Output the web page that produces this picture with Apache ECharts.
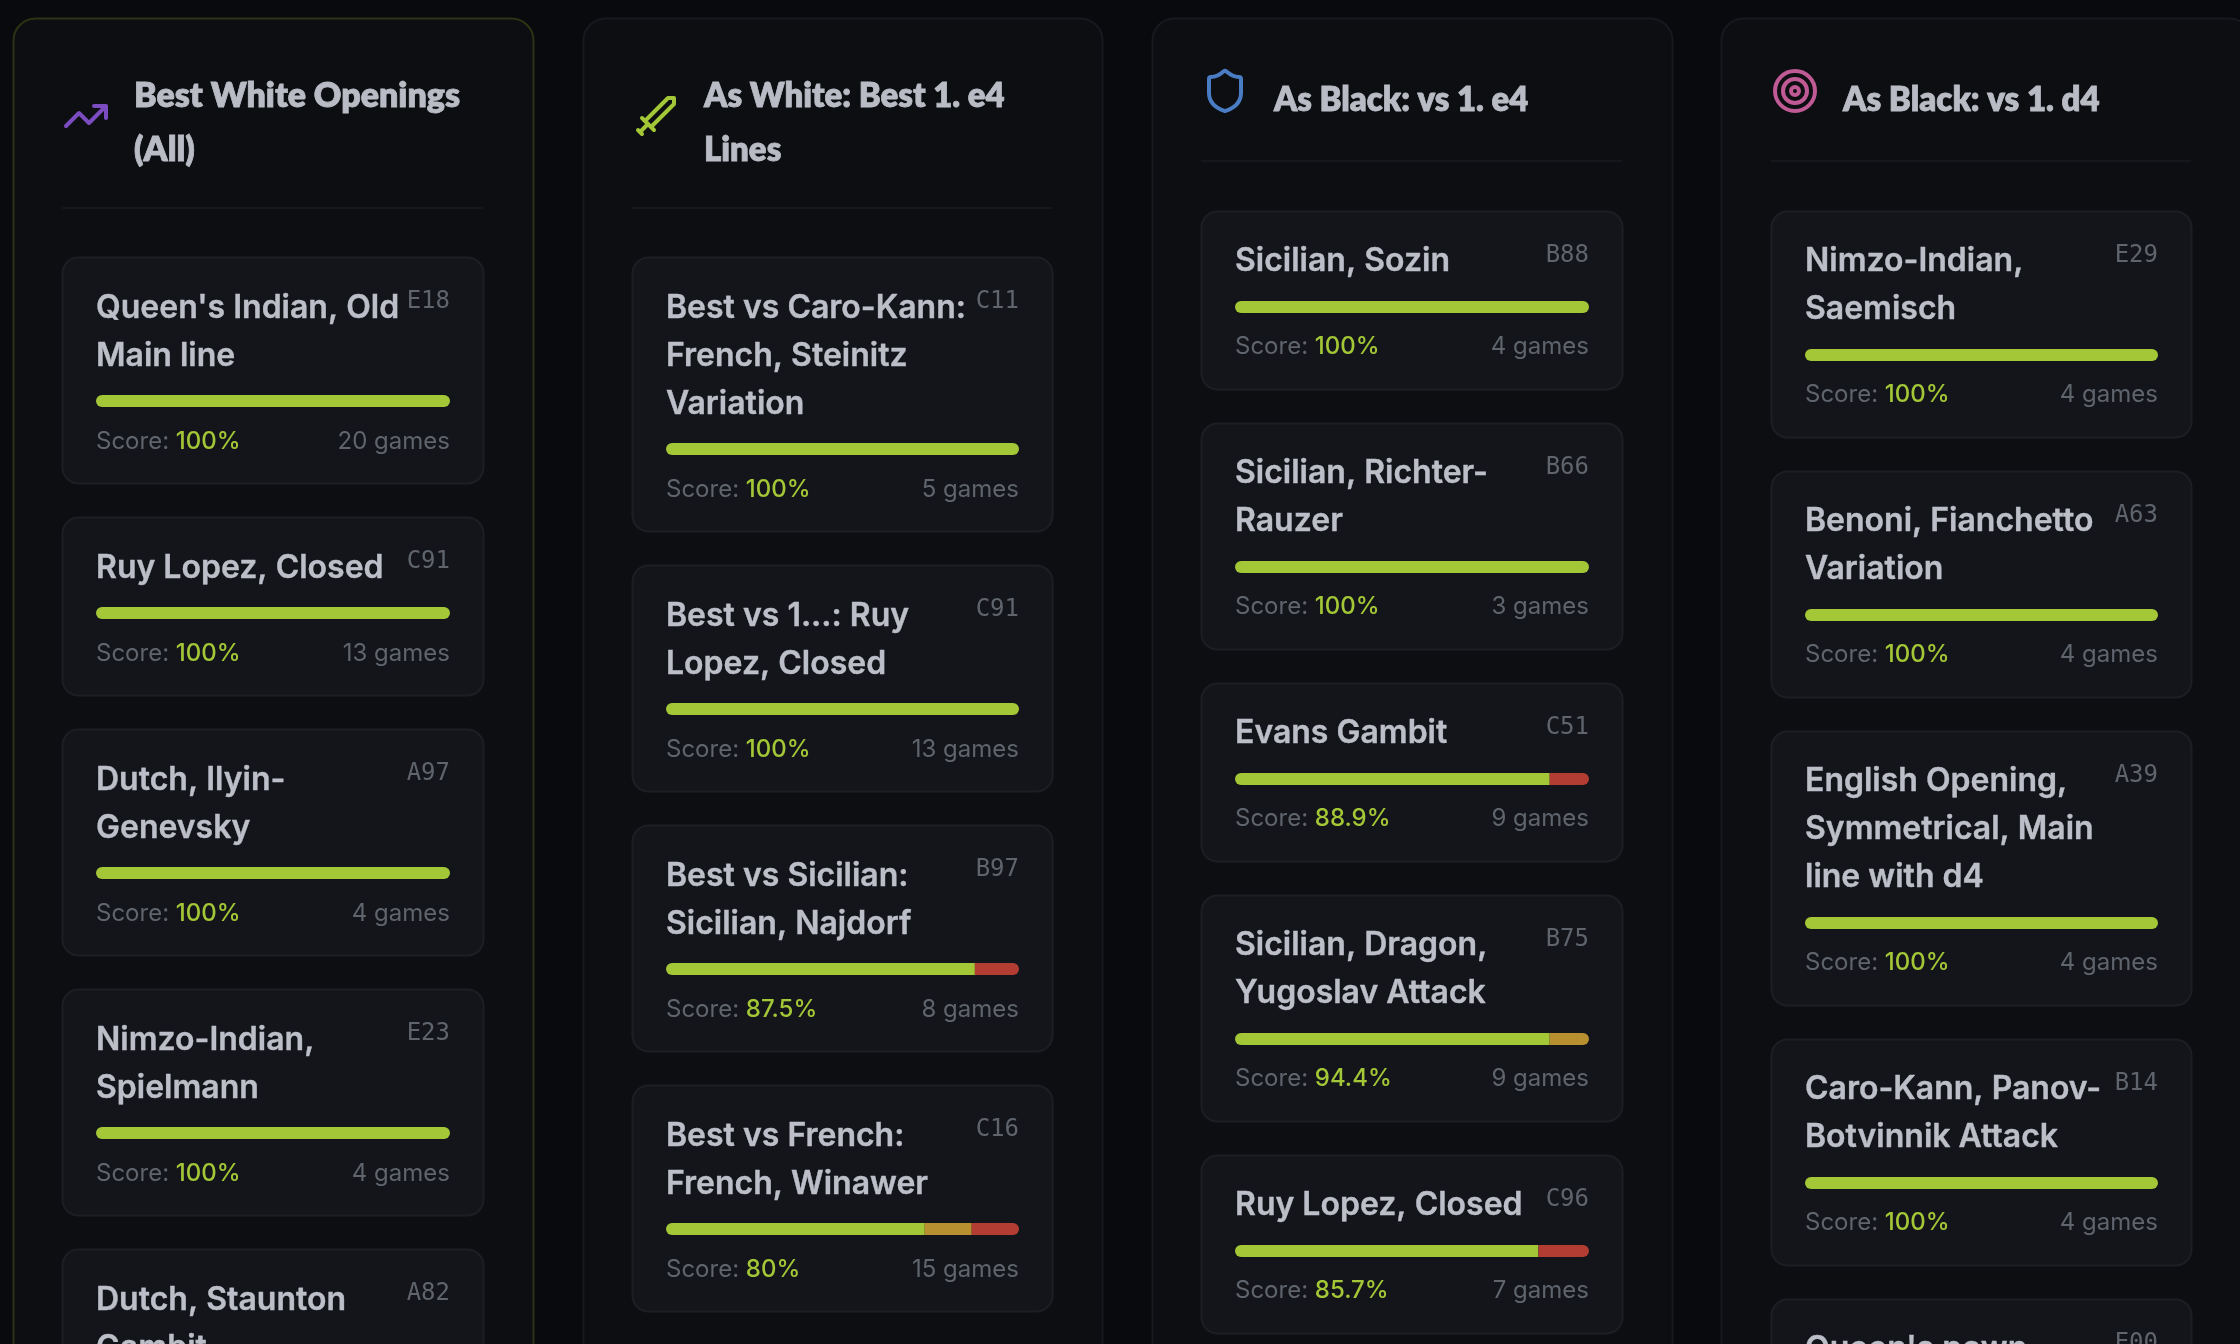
<!DOCTYPE html>
<html>
<head>
<meta charset="utf-8">
<title>Openings</title>
<script src="https://cdn.jsdelivr.net/npm/echarts@6/dist/echarts.min.js"></script>
<style>
html,body{margin:0;padding:0;background:#090a0d;}
#chart{width:2240px;height:1344px;}
</style>
</head>
<body>
<div id="chart"></div>
<script>
// column titles
var titles = ['Best White Openings\n(All)', 'As White: Best 1. e4\nLines', 'As Black: vs 1. e4', 'As Black: vs 1. d4'];
var iconColors = ['#7a4cc0', '#a3c736', '#4a7cc4', '#c05a94'];

// column 1
var names1 = ["Queen's Indian, Old\nMain line", 'Ruy Lopez, Closed', 'Dutch, Ilyin-\nGenevsky', 'Nimzo-Indian,\nSpielmann', 'Dutch, Staunton\nGambit'];
var codes1 = ['E18', 'C91', 'A97', 'E23', 'A82'];
var scores1 = [100, 100, 100, 100];
var games1 = [20, 13, 4, 4];
var wins1 = [100, 100, 100, 100];
var draws1 = [0, 0, 0, 0];
var losses1 = [0, 0, 0, 0];

// column 2
var names2 = ['Best vs Caro-Kann:\nFrench, Steinitz\nVariation', 'Best vs 1...: Ruy\nLopez, Closed', 'Best vs Sicilian:\nSicilian, Najdorf', 'Best vs French:\nFrench, Winawer'];
var codes2 = ['C11', 'C91', 'B97', 'C16'];
var scores2 = [100, 100, 87.5, 80];
var games2 = [5, 13, 8, 15];
var wins2 = [100, 100, 87.5, 73.3];
var draws2 = [0, 0, 0, 13.3];
var losses2 = [0, 0, 12.5, 13.4];

// column 3
var names3 = ['Sicilian, Sozin', 'Sicilian, Richter-\nRauzer', 'Evans Gambit', 'Sicilian, Dragon,\nYugoslav Attack', 'Ruy Lopez, Closed'];
var codes3 = ['B88', 'B66', 'C51', 'B75', 'C96'];
var scores3 = [100, 100, 88.9, 94.4, 85.7];
var games3 = [4, 3, 9, 9, 7];
var wins3 = [100, 100, 88.9, 88.9, 85.7];
var draws3 = [0, 0, 0, 11.1, 0];
var losses3 = [0, 0, 11.1, 0, 14.3];

// column 4
var names4 = ['Nimzo-Indian,\nSaemisch', 'Benoni, Fianchetto\nVariation', 'English Opening,\nSymmetrical, Main\nline with d4', 'Caro-Kann, Panov-\nBotvinnik Attack', "Queen's pawn"];
var codes4 = ['E29', 'A63', 'A39', 'B14', 'E00'];
var scores4 = [100, 100, 100, 100];
var games4 = [4, 4, 4, 4];
var wins4 = [100, 100, 100, 100];
var draws4 = [0, 0, 0, 0];
var losses4 = [0, 0, 0, 0];

var columns = [
    {names: names1, codes: codes1, scores: scores1, games: games1, wins: wins1, draws: draws1, losses: losses1},
    {names: names2, codes: codes2, scores: scores2, games: games2, wins: wins2, draws: draws2, losses: losses2},
    {names: names3, codes: codes3, scores: scores3, games: games3, wins: wins3, draws: draws3, losses: losses3},
    {names: names4, codes: codes4, scores: scores4, games: games4, wins: wins4, draws: draws4, losses: losses4}
];

// lucide icons, 24 unit box
var icons = [
    'M22 7L13.5 15.5L8.5 10.5L2 17M16 7L22 7L22 13',
    'M9.5 17.5L21 6L21 3L18 3L6.5 14.5M11 19L5 13M8 16L4 20M5 21L3 19',
    'M20 13c0 5-3.5 7.5-7.66 8.95a1 1 0 0 1-.67-.01C7.5 20.5 4 18 4 13V6a1 1 0 0 1 1-1c2 0 4.5-1.2 6.24-2.72a1.17 1.17 0 0 1 1.52 0C14.51 3.81 17 5 19 5a1 1 0 0 1 1 1z',
    'M22 12A10 10 0 1 1 2 12A10 10 0 1 1 22 12ZM18 12A6 6 0 1 1 6 12A6 6 0 1 1 18 12ZM14 12A2 2 0 1 1 10 12A2 2 0 1 1 14 12Z'
];
icons.forEach(function (d, i) {
    echarts.graphic.registerShape('icon' + i, echarts.graphic.extendPath(d));
});

// layout
var panelX = [13, 583, 1152, 1721];
var panelW = [520, 519, 520, 530];
var panelTop = 18;
var cardX = [62, 632, 1201, 1771];
var cardW = [421, 420, 421, 420];
var dividerY = [207, 207, 160, 160];
var firstCardY = [257, 257, 211, 211];
var iconY = [92, 92, 67, 67];
var titleY = [69, 69, 73, 73];
var titleDx = [72, 72, 73, 72];
var titleScaleX = [0.983, 0.955, 0.952, 0.957];
var nameDy = [27, 27, 26, 26];
var codeDy = 45;
var scoreDy = [41, 41, 42, 42];
var lineH = 48, cardGap = 34, barH = 12, pad = 34, padRight = 33;

var green = '#a3c736', orange = '#b8902f', red = '#b33d33';
var nameColor = '#bcbfc8', greyText = '#5f646d';
var sans = 'Inter';

var graphics = [], grids = [], xAxes = [], yAxes = [], series = [];

function addBar(col, row, x, y, w, name) {
    var idx = grids.length;
    grids.push({left: x, top: y, width: w, height: barH, containLabel: false});
    xAxes.push({type: 'value', gridIndex: idx, min: 0, max: 100, show: false});
    yAxes.push({type: 'category', gridIndex: idx, data: [name], show: false});
    var parts = [
        {key: 'Win', v: col.wins[row], color: green},
        {key: 'Draw', v: col.draws[row], color: orange},
        {key: 'Loss', v: col.losses[row], color: red}
    ];
    var live = parts.filter(function (p) { return p.v > 0; });
    parts.forEach(function (p) {
        var first = live[0] === p, last = live[live.length - 1] === p;
        series.push({
            type: 'bar', name: p.key, stack: 's' + idx, xAxisIndex: idx, yAxisIndex: idx,
            barWidth: barH, silent: true, animation: false, z: 10,
            itemStyle: {color: p.color, borderRadius: [first ? 6 : 0, last ? 6 : 0, last ? 6 : 0, first ? 6 : 0]},
            data: [p.v]
        });
    });
}

columns.forEach(function (col, c) {
    var rightX = cardX[c] + cardW[c] - padRight;
    // panel
    graphics.push({type: 'rect', z: 1, shape: {x: panelX[c] + 0.5, y: panelTop + 0.5, width: panelW[c], height: 1500, r: 22},
        style: {fill: '#0c0e12', stroke: c === 0 ? '#2c3314' : '#17191e', lineWidth: 2}});
    // icon
    graphics.push({type: 'icon' + c, x: cardX[c], y: iconY[c], scaleX: 2, scaleY: 2, z: 3,
        style: {stroke: iconColors[c], fill: null, lineWidth: 2, lineCap: 'round', lineJoin: 'round'}});
    // title
    graphics.push({type: 'text', x: cardX[c] + titleDx[c], y: titleY[c], scaleX: titleScaleX[c], z: 3,
        style: {text: titles[c], fill: '#b9bcc5', stroke: '#b9bcc5', lineWidth: 0.8, font: '800 34.5px Lato', lineHeight: 54, verticalAlign: 'top'}});
    graphics.push({type: 'rect', z: 2, shape: {x: cardX[c], y: dividerY[c], width: cardW[c], height: 2}, style: {fill: '#15171c'}});

    var y = firstCardY[c];
    col.names.forEach(function (name, r) {
        var lines = name.split('\n').length;
        var h = 130 + lineH * lines;
        graphics.push({type: 'rect', z: 2, shape: {x: cardX[c] + 0.5, y: y + 0.5, width: cardW[c], height: h, r: 16},
            style: {fill: '#13151a', stroke: '#1c1e24', lineWidth: 2}});
        graphics.push({type: 'text', x: cardX[c] + pad, y: y + nameDy[c], z: 4,
            style: {text: name, fill: nameColor, stroke: nameColor, lineWidth: 0.4, font: '600 32px ' + sans, lineHeight: lineH, verticalAlign: 'top'}});
        graphics.push({type: 'text', x: rightX, y: y + codeDy, z: 4,
            style: {text: col.codes[r], fill: greyText, font: '24px "DejaVu Sans Mono"', align: 'right', verticalAlign: 'middle'}});
        if (col.scores[r] != null) {
            var barY = y + h - 88;
            addBar(col, r, cardX[c] + pad, barY, cardW[c] - pad - padRight, name);
            graphics.push({type: 'text', x: cardX[c] + pad, y: y + h - scoreDy[c], z: 4,
                style: {text: '{a|Score: }{b|' + col.scores[r] + '%}', verticalAlign: 'middle',
                    rich: {a: {fill: greyText, font: '24px ' + sans}, b: {fill: green, font: '500 24px ' + sans}}}});
            graphics.push({type: 'text', x: rightX, y: y + h - scoreDy[c], z: 4,
                style: {text: col.games[r] + ' games', fill: greyText, font: '24px ' + sans, align: 'right', verticalAlign: 'middle'}});
        }
        y += h + cardGap;
    });
});

var myChart = echarts.init(document.getElementById('chart'), null, {renderer: 'canvas', width: 2240, height: 1344});
myChart.setOption({
    backgroundColor: '#090a0d',
    animation: false,
    tooltip: {show: false},
    legend: {show: false},
    grid: grids,
    xAxis: xAxes,
    yAxis: yAxes,
    graphic: {elements: graphics},
    series: series
});
</script>
</body>
</html>
